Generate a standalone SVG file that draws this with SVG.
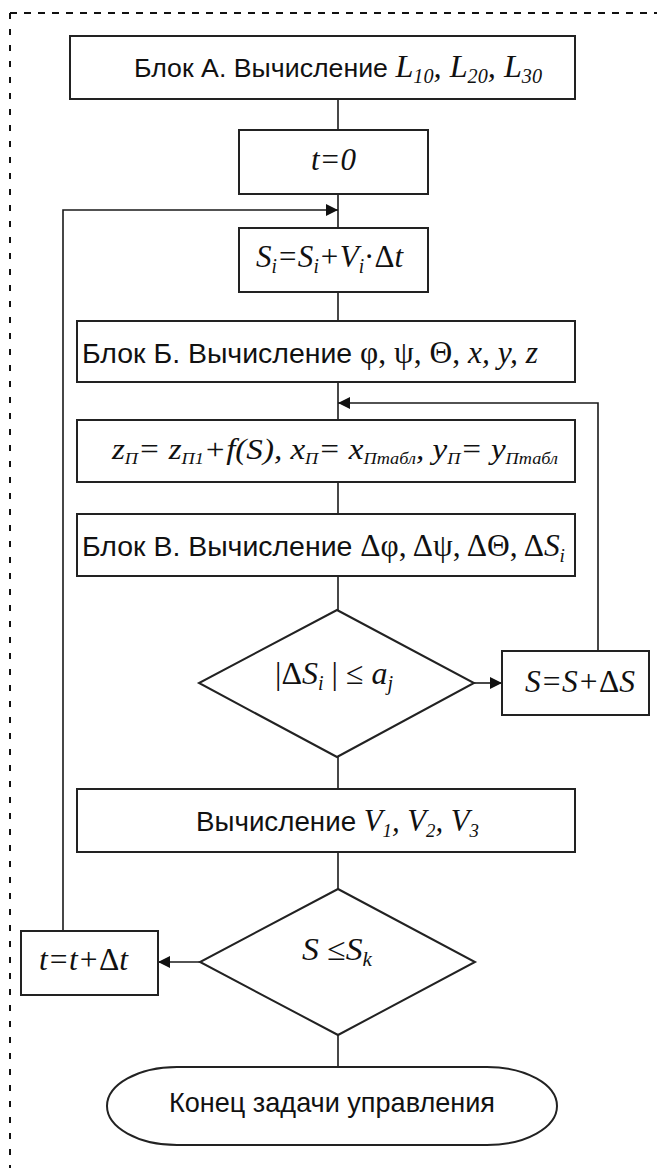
<svg xmlns="http://www.w3.org/2000/svg" width="657" height="1168" viewBox="0 0 657 1168">
<style>
  .box { fill: #fff; stroke: #222; stroke-width: 2; }
  .ln { fill: none; stroke: #1a1a1a; stroke-width: 1.6; }
  .sans { font-family: "Liberation Sans", Arial, sans-serif; fill: #111; }
  .ser { font-family: "Liberation Serif", "Times New Roman", serif; fill: #111; }
  .it { font-style: italic; }
  .up { font-style: normal; }
  .frame { fill: none; stroke: #111; stroke-width: 2; }
</style>
<defs>
  <marker id="arr" markerUnits="userSpaceOnUse" markerWidth="14" markerHeight="14" refX="12" refY="6" orient="auto">
    <path d="M0,0 L12,6 L0,12 Z" fill="#111"/>
  </marker>
</defs>

<g id="frame">
  <line class="frame" x1="10" y1="13" x2="657" y2="13" stroke-dasharray="7,7"/>
  <line class="frame" x1="10" y1="13" x2="10" y2="1168" stroke-dasharray="6,10"/>
</g>

<g id="connectors">
  <path class="ln" d="M338,99 V130"/>
  <path class="ln" d="M338,194 V228"/>
  <path class="ln" d="M338,292 V321"/>
  <path class="ln" d="M338,382 V420"/>
  <path class="ln" d="M338,482 V514"/>
  <path class="ln" d="M338,576 V610"/>
  <path class="ln" d="M338,757 V789"/>
  <path class="ln" d="M338,852 V889"/>
  <path class="ln" d="M338,1035 V1067"/>
  <path class="ln" d="M63,931 V210 H338" marker-end="url(#arr)"/>
  <path class="ln" d="M598,651 V403 H338" marker-end="url(#arr)"/>
  <path class="ln" d="M474,683 H502" marker-end="url(#arr)"/>
  <path class="ln" d="M200,962 H158" marker-end="url(#arr)"/>
</g>

<g id="blockA">
  <rect class="box" x="70" y="36" width="505" height="63"/>
  <text x="134" y="77" font-size="32" textLength="408" lengthAdjust="spacingAndGlyphs"><tspan class="sans" font-size="26.5">Блок А. Вычисление </tspan><tspan class="ser it">L</tspan><tspan class="ser it" font-size="20" dy="6">10</tspan><tspan class="ser it" dy="-6">, L</tspan><tspan class="ser it" font-size="20" dy="6">20</tspan><tspan class="ser it" dy="-6">, L</tspan><tspan class="ser it" font-size="20" dy="6">30</tspan></text>
</g>

<g id="t0">
  <rect class="box" x="239" y="130" width="189" height="64"/>
  <text class="ser it" font-size="32" x="311" y="170" textLength="45" lengthAdjust="spacingAndGlyphs">t=0</text>
</g>

<g id="si">
  <rect class="box" x="239" y="228" width="189" height="64"/>
  <text class="ser it" font-size="32" x="256" y="267" textLength="147" lengthAdjust="spacingAndGlyphs">S<tspan font-size="20" dy="6">i</tspan><tspan dy="-6">=S</tspan><tspan font-size="20" dy="6">i</tspan><tspan dy="-6">+V</tspan><tspan font-size="20" dy="6">i</tspan><tspan dy="-6" class="up">·Δ</tspan>t</text>
</g>

<g id="blockB">
  <rect class="box" x="77" y="321" width="498" height="61"/>
  <text x="82" y="363" font-size="31" textLength="456" lengthAdjust="spacingAndGlyphs"><tspan class="sans" font-size="28">Блок Б. Вычисление </tspan><tspan class="ser up">φ, ψ, Θ, </tspan><tspan class="ser it">x, y, z</tspan></text>
</g>

<g id="zp">
  <rect class="box" x="77" y="420" width="498" height="62"/>
  <text class="ser it" font-size="29" x="112" y="459" textLength="446" lengthAdjust="spacingAndGlyphs">z<tspan font-size="16" dy="5">П</tspan><tspan dy="-5">= z</tspan><tspan font-size="16" dy="5">П1</tspan><tspan dy="-5">+f(S), x</tspan><tspan font-size="16" dy="5">П</tspan><tspan dy="-5">= x</tspan><tspan font-size="16" dy="5">Птабл</tspan><tspan dy="-5">, y</tspan><tspan font-size="16" dy="5">П</tspan><tspan dy="-5">= y</tspan><tspan font-size="16" dy="5">Птабл</tspan></text>
</g>

<g id="blockV">
  <rect class="box" x="77" y="514" width="498" height="62"/>
  <text x="82" y="556" font-size="31" textLength="483" lengthAdjust="spacingAndGlyphs"><tspan class="sans" font-size="28">Блок В. Вычисление </tspan><tspan class="ser up">Δφ, Δψ, ΔΘ, Δ</tspan><tspan class="ser it">S</tspan><tspan class="ser it" font-size="19" dy="6">i</tspan></text>
</g>

<g id="cond1">
  <polygon class="box" points="337,610 474,683 337,757 199,683"/>
  <text class="ser" font-size="32" x="275" y="684" textLength="118" lengthAdjust="spacingAndGlyphs">|Δ<tspan class="it">S</tspan><tspan class="it" font-size="20" dy="6">i</tspan><tspan dy="-6"> | ≤ </tspan><tspan class="it">a</tspan><tspan class="it" font-size="20" dy="6">j</tspan></text>
</g>

<g id="sds">
  <rect class="box" x="502" y="651" width="147" height="64"/>
  <text class="ser it" font-size="32" x="525" y="692" textLength="110" lengthAdjust="spacingAndGlyphs">S=S+<tspan class="up">Δ</tspan>S</text>
</g>

<g id="calcV">
  <rect class="box" x="77" y="789" width="498" height="63"/>
  <text x="196" y="831" font-size="31" textLength="283" lengthAdjust="spacingAndGlyphs"><tspan class="sans" font-size="28">Вычисление </tspan><tspan class="ser it">V</tspan><tspan class="ser it" font-size="19" dy="6">1</tspan><tspan class="ser it" dy="-6">, V</tspan><tspan class="ser it" font-size="19" dy="6">2</tspan><tspan class="ser it" dy="-6">, V</tspan><tspan class="ser it" font-size="19" dy="6">3</tspan></text>
</g>

<g id="cond2">
  <polygon class="box" points="338,889 475,962 338,1035 200,962"/>
  <text class="ser" font-size="32" x="302" y="960" textLength="70" lengthAdjust="spacingAndGlyphs"><tspan class="it">S</tspan> ≤<tspan class="it">S</tspan><tspan class="it" font-size="20" dy="6">k</tspan></text>
</g>

<g id="tinc">
  <rect class="box" x="21" y="931" width="137" height="64"/>
  <text class="ser it" font-size="32" x="39" y="970" textLength="89" lengthAdjust="spacingAndGlyphs">t=t+<tspan class="up">Δ</tspan>t</text>
</g>

<g id="end">
  <path class="box" d="M177,1067 H487 A70,39 0 0 1 487,1145 H177 A70,39 0 0 1 177,1067 Z"/>
  <text class="sans" font-size="28" x="169" y="1112" textLength="326" lengthAdjust="spacingAndGlyphs">Конец задачи управления</text>
</g>
</svg>
